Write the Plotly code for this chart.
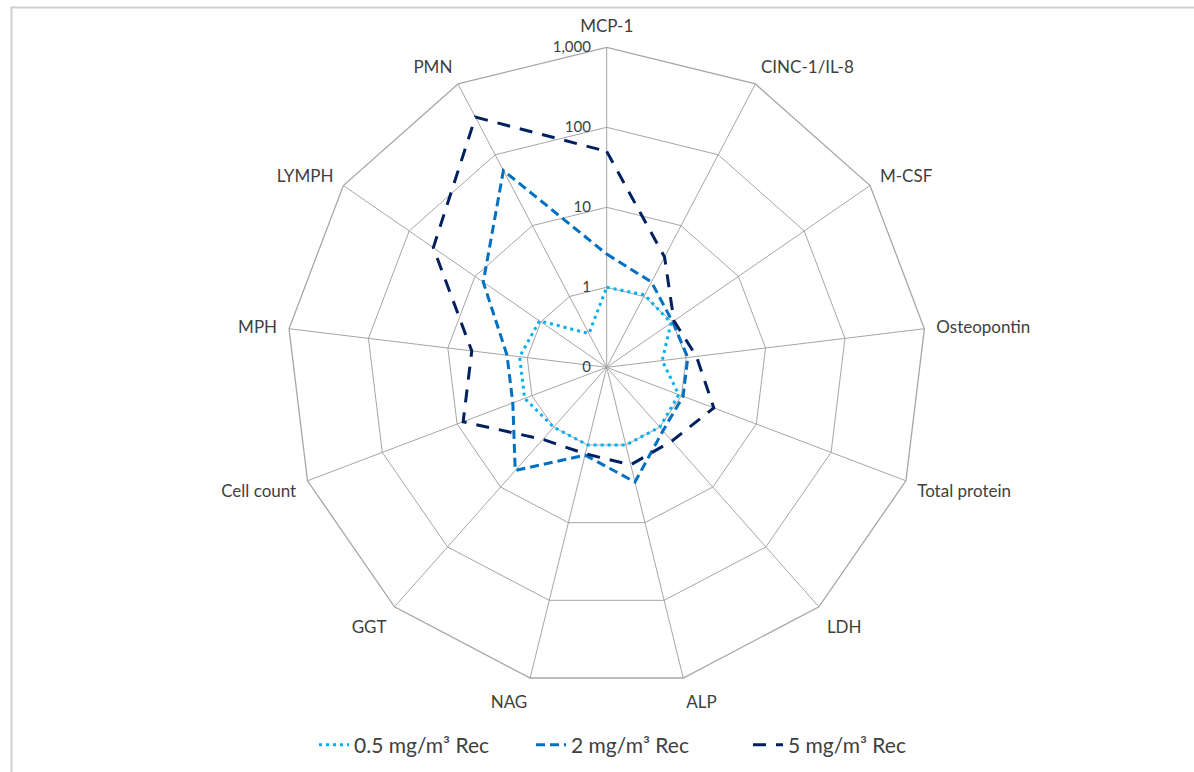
import plotly.graph_objects as go

categories = ["MCP-1", "CINC-1/IL-8", "M-CSF", "Osteopontin", "Total protein", "LDH",
              "ALP", "NAG", "GGT", "Cell count", "MPH", "LYMPH", "PMN"]
dose_05 = [1.0, 1.05, 0.95, 0.5, 0.92, 1.0, 1.0, 1.0, 1.0, 1.25, 1.25, 1.05, 0.3]
dose_2 = [2.6, 1.6, 1.0, 1.05, 1.05, 1.15, 3.0, 1.35, 5.3, 1.8, 1.8, 7.5, 60]
dose_5 = [50, 3.6, 1.05, 1.35, 2.7, 1.7, 1.8, 1.3, 1.6, 8.3, 5.0, 43, 340]
series_names = ["0.5 mg/m\u00b3 Rec", "2 mg/m\u00b3 Rec", "5 mg/m\u00b3 Rec"]
radial_tickvals = [0.1, 1, 10, 100, 1000]
radial_ticktext = ["0", "1", "10", "100", "1,000"]

W, H = 1194, 772
cx, cy, R = 606.7, 367.3, 320
FONT = "Lato"
TXT = "#404040"
GRID = "#a6a6a6"

styles = [
    dict(color="#00B0F0", dash="3px,4px"),
    dict(color="#0070C0", dash="9px,5px"),
    dict(color="#002060", dash="13px,10px"),
]

fig = go.Figure()
for name, vals, st in zip(series_names, [dose_05, dose_2, dose_5], styles):
    fig.add_trace(go.Scatterpolar(
        r=vals + vals[:1], theta=categories + categories[:1],
        mode="lines", name=name,
        line=dict(color=st["color"], dash=st["dash"], width=3),
    ))

fig.update_layout(
    width=W, height=H,
    margin=dict(l=0, r=0, t=0, b=0, autoexpand=False),
    paper_bgcolor="white",
    font=dict(family=FONT, color=TXT),
    showlegend=True,
    legend=dict(orientation="h", x=314 / W, xanchor="left", y=(H - 745) / H, yanchor="middle",
                font=dict(size=21, color=TXT, family=FONT),
                entrywidth=172, entrywidthmode="pixels",
                traceorder="normal"),
    polar=dict(
        domain=dict(x=[(cx - R) / W, (cx + R) / W], y=[1 - (cy + R) / H, 1 - (cy - R) / H]),
        gridshape="linear",
        bgcolor="white",
        angularaxis=dict(direction="clockwise", rotation=90, showline=True, linecolor=GRID,
                         linewidth=1.3, gridcolor=GRID, gridwidth=1.3,
                         ticks="outside", ticklen=8, tickcolor="rgba(0,0,0,0)",
                         tickfont=dict(size=17, color=TXT, family=FONT),
                         categoryorder="array", categoryarray=categories),
        radialaxis=dict(type="log", range=[-1, 3], tickvals=radial_tickvals,
                        ticktext=radial_ticktext, angle=90, tickangle=90, showline=False,
                        gridcolor=GRID, gridwidth=1.3,
                        ticks="outside", ticklen=10, tickcolor="rgba(0,0,0,0)",
                        side="counterclockwise",
                        tickfont=dict(size=15, color=TXT, family=FONT)),
    ),
    shapes=[dict(type="rect", xref="paper", yref="paper",
                 x0=11.5 / W, y0=-0.02, x1=1.02, y1=1 - 7.5 / H,
                 line=dict(color="#cfcfcf", width=2), layer="below")],
)

fig.write_html("out.html", config={"displayModeBar": False},
               post_script="document.body.style.margin='0px';")
